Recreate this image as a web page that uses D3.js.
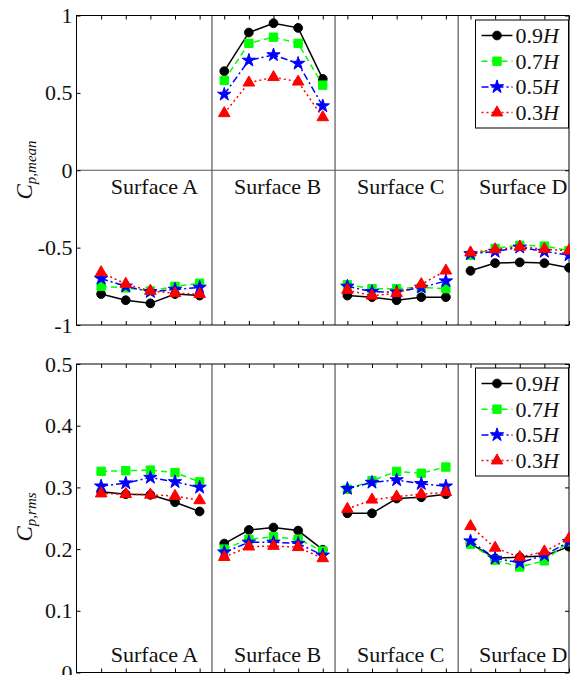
<!DOCTYPE html>
<html>
<head>
<meta charset="utf-8">
<script src="https://cdn.jsdelivr.net/npm/d3@7.9.0/dist/d3.min.js"></script>
<style>
  body { margin: 0; background: #fff; }
  svg text { font-family: 'Liberation Serif', 'Times New Roman', Times, serif; }
</style>
</head>
<body>
<div id="chart"></div>
<script>
// values, 5 points per surface (A, B, C, D)
const surfaces = ['Surface A', 'Surface B', 'Surface C', 'Surface D'];
const levels = ['0.9', '0.7', '0.5', '0.3'];

const meanH09 = [-0.80, -0.84, -0.86, -0.80, -0.81,  0.64, 0.89, 0.95, 0.92, 0.59,  -0.81, -0.82, -0.84, -0.82, -0.82,  -0.65, -0.60, -0.595, -0.60, -0.63];
const meanH07 = [-0.75, -0.76, -0.78, -0.75, -0.73,  0.58, 0.82, 0.86, 0.82, 0.55,  -0.74, -0.765, -0.765, -0.757, -0.765,  -0.55, -0.505, -0.485, -0.49, -0.52];
const meanH05 = [-0.70, -0.75, -0.785, -0.77, -0.757,  0.49, 0.71, 0.745, 0.69, 0.415,  -0.75, -0.785, -0.787, -0.757, -0.716,  -0.54, -0.525, -0.498, -0.525, -0.548];
const meanH03 = [-0.66, -0.735, -0.78, -0.795, -0.80,  0.368, 0.566, 0.601, 0.572, 0.342,  -0.774, -0.811, -0.795, -0.737, -0.649,  -0.532, -0.512, -0.495, -0.51, -0.52];

const rmsH09 = [0.293, 0.289, 0.288, 0.276, 0.261,  0.209, 0.231, 0.235, 0.230, 0.199,  0.258, 0.258, 0.282, 0.284, 0.289,  0.209, 0.185, 0.187, 0.189, 0.204];
const rmsH07 = [0.326, 0.327, 0.328, 0.324, 0.309,  0.200, 0.216, 0.220, 0.216, 0.197,  0.297, 0.311, 0.326, 0.323, 0.333,  0.208, 0.182, 0.171, 0.181, 0.212];
const rmsH05 = [0.302, 0.307, 0.316, 0.309, 0.300,  0.195, 0.211, 0.211, 0.209, 0.190,  0.298, 0.308, 0.312, 0.306, 0.302,  0.213, 0.185, 0.178, 0.190, 0.212];
const rmsH03 = [0.290, 0.289, 0.288, 0.286, 0.279,  0.187, 0.204, 0.205, 0.203, 0.185,  0.265, 0.280, 0.285, 0.289, 0.292,  0.237, 0.202, 0.187, 0.196, 0.217];

const meanTicks = [-1, -0.5, 0, 0.5, 1];
const rmsTicks = [0, 0.1, 0.2, 0.3, 0.4, 0.5];

const serif = "'Liberation Serif', 'Times New Roman', Times, serif";

const styles = [
  { color: '#000000', dash: null, symbol: d3.symbolCircle, size: 60 },
  { color: '#00ff00', dash: '6,4', symbol: d3.symbolSquare, size: 70 },
  { color: '#0000ff', dash: '7,3,2,3', symbol: d3.symbolStar, size: 55 },
  { color: '#ff0000', dash: '2,3', symbol: d3.symbolTriangle, size: 58 },
];

const width = 570, height = 675;
const svg = d3.select('#chart').append('svg')
  .attr('width', width).attr('height', height)
  .attr('font-family', serif);

const x = d3.scaleLinear().domain([0, 20]).range([76.5, 569]);
const pointIdx = d3.range(1, 21);

drawPanel({
  y: d3.scaleLinear().domain([-1, 1]).range([325, 15.5]),
  ticks: meanTicks,
  series: [meanH09, meanH07, meanH05, meanH03],
  sub: 'p,mean',
  zeroLine: true,
  labelY: 194,
  legendTop: 20,
  titleCenter: 170,
});

drawPanel({
  y: d3.scaleLinear().domain([0, 0.5]).range([672.5, 364]),
  ticks: rmsTicks,
  series: [rmsH09, rmsH07, rmsH05, rmsH03],
  sub: 'p,rms',
  zeroLine: false,
  labelY: 662,
  legendTop: 368,
  titleCenter: 517,
});

function drawPanel(p) {
  const y = p.y;
  const [top, bottom] = [y.range()[1], y.range()[0]];
  const [left, right] = x.range();
  const g = svg.append('g');

  // separators between surfaces
  [5.5, 10.5, 15.5].forEach(s => {
    g.append('line')
      .attr('x1', x(s)).attr('x2', x(s)).attr('y1', top).attr('y2', bottom)
      .attr('stroke', '#7a7a7a').attr('stroke-width', 1.5);
  });
  if (p.zeroLine) {
    g.append('line')
      .attr('x1', left).attr('x2', right).attr('y1', y(0)).attr('y2', y(0))
      .attr('stroke', '#555').attr('stroke-width', 1);
  }

  // axes
  const yl = g.append('g').attr('transform', `translate(${left},0)`)
    .call(d3.axisLeft(y).tickValues(p.ticks).tickSizeInner(-4).tickSizeOuter(0).tickPadding(4)
      .tickFormat(d => String(d)));
  const yr = g.append('g').attr('transform', `translate(${right},0)`)
    .call(d3.axisRight(y).tickValues(p.ticks).tickSizeInner(-4).tickSizeOuter(0).tickFormat(''));
  const xb = g.append('g').attr('transform', `translate(0,${bottom})`)
    .call(d3.axisBottom(x).tickValues(pointIdx).tickSizeInner(-4).tickSizeOuter(0).tickFormat(''));
  const xt = g.append('g').attr('transform', `translate(0,${top})`)
    .call(d3.axisTop(x).tickValues(pointIdx).tickSizeInner(-4).tickSizeOuter(0).tickFormat(''));
  [yl, yr, xb, xt].forEach(a => {
    a.attr('font-family', serif);
    a.select('.domain').remove();
    a.selectAll('line').attr('stroke', '#000').attr('stroke-width', 1);
  });
  yl.attr('font-size', 22);
  yl.selectAll('text').attr('fill', '#111').attr('font-family', serif);

  g.append('rect')
    .attr('x', left).attr('y', top).attr('width', right - left).attr('height', bottom - top)
    .attr('fill', 'none').attr('stroke', '#000').attr('stroke-width', 1);

  // surface labels
  surfaces.forEach((s, i) => {
    g.append('text')
      .attr('x', x(5 * (i + 1)) - 1.5).attr('y', p.labelY)
      .attr('text-anchor', 'end').attr('font-size', 22).attr('font-family', serif)
      .attr('fill', '#111')
      .text(s);
  });

  // series
  p.series.forEach((vals, k) => {
    const st = styles[k];
    for (let s = 0; s < 4; s++) {
      const seg = vals.slice(s * 5, s * 5 + 5).map((v, j) => [s * 5 + j + 1, v]);
      g.append('path')
        .attr('d', d3.line().x(d => x(d[0])).y(d => y(d[1]))(seg))
        .attr('fill', 'none').attr('stroke', st.color).attr('stroke-width', 1.5)
        .attr('stroke-dasharray', st.dash);
    }
    g.selectAll(null).data(vals).join('path')
      .attr('transform', (v, j) => `translate(${x(j + 1)},${y(v)})`)
      .attr('d', d3.symbol(st.symbol, st.size)())
      .attr('fill', st.color).attr('stroke', st.color).attr('stroke-width', 1);
  });

  // y label
  const lab = g.append('text')
    .attr('transform', `translate(32,${p.titleCenter}) rotate(-90)`)
    .attr('text-anchor', 'middle').attr('font-style', 'italic')
    .attr('font-family', serif).attr('fill', '#111');
  lab.append('tspan').attr('font-size', 23).text('C');
  lab.append('tspan').attr('font-size', 15).attr('dy', 4).text(p.sub);

  // legend
  const lx = 475.5, lw = 93, lh = 108;
  const lg = g.append('g');
  lg.append('rect').attr('x', lx).attr('y', p.legendTop).attr('width', lw).attr('height', lh)
    .attr('fill', '#fff').attr('stroke', '#000').attr('stroke-width', 1);
  levels.forEach((lev, k) => {
    const st = styles[k];
    const cy = p.legendTop + 15.5 + k * 25.7;
    lg.append('line').attr('x1', lx + 6).attr('x2', lx + 37).attr('y1', cy).attr('y2', cy)
      .attr('stroke', st.color).attr('stroke-width', 1.5).attr('stroke-dasharray', st.dash);
    lg.append('path').attr('transform', `translate(${lx + 21.5},${cy})`)
      .attr('d', d3.symbol(st.symbol, st.size)())
      .attr('fill', st.color).attr('stroke', st.color);
    const t = lg.append('text').attr('x', lx + 40).attr('y', cy + 7.5)
      .attr('font-size', 22).attr('font-family', serif).attr('fill', '#111');
    t.append('tspan').text(lev);
    t.append('tspan').attr('font-style', 'italic').text('H');
  });
}
</script>
</body>
</html>
